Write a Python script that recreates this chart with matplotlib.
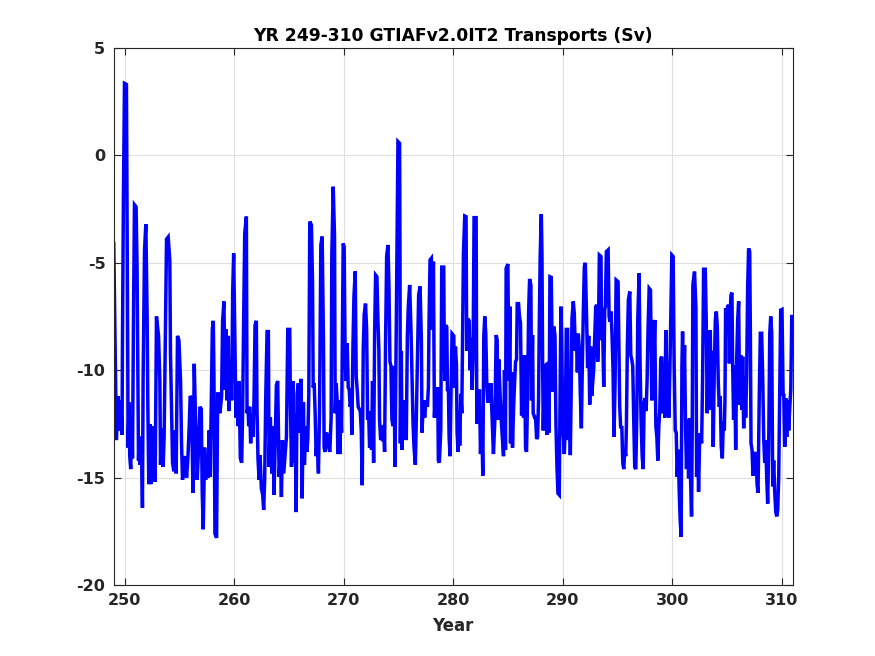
import matplotlib

matplotlib.use("Agg")
import matplotlib.pyplot as plt

# Transport turning points (year, Sv)
years = [
    249.00, 249.09, 249.24, 249.40, 249.55, 249.64, 249.76, 249.79, 249.88, 249.98,
    250.16, 250.22, 250.28, 250.31, 250.40, 250.46, 250.55, 250.65, 250.71, 250.80,
    250.89, 251.04, 251.13, 251.20, 251.26, 251.32, 251.41, 251.53, 251.62, 251.68,
    251.81, 251.93, 252.05, 252.11, 252.20, 252.29, 252.39, 252.51, 252.60, 252.69,
    252.78, 252.90, 253.09, 253.21, 253.27, 253.39, 253.51, 253.60, 253.70, 253.82,
    253.97, 254.12, 254.18, 254.28, 254.37, 254.49, 254.61, 254.70, 254.82, 254.95,
    255.10, 255.19, 255.28, 255.40, 255.53, 255.65, 255.77, 255.89, 255.98, 256.10,
    256.23, 256.35, 256.47, 256.62, 256.75, 256.87, 256.99, 257.08, 257.17, 257.30,
    257.39, 257.51, 257.63, 257.72, 257.81, 257.94, 258.00, 258.09, 258.15, 258.24,
    258.39, 258.49, 258.55, 258.70, 258.85, 258.94, 259.06, 259.16, 259.25, 259.34,
    259.46, 259.52, 259.64, 259.77, 259.86, 259.95, 260.07, 260.16, 260.25, 260.35,
    260.44, 260.56, 260.68, 260.77, 260.86, 260.96, 261.11, 261.17, 261.26, 261.32,
    261.41, 261.50, 261.63, 261.72, 261.81, 261.90, 262.02, 262.08, 262.17, 262.27,
    262.36, 262.48, 262.60, 262.69, 262.78, 262.88, 263.00, 263.12, 263.18, 263.30,
    263.43, 263.55, 263.64, 263.73, 263.85, 263.97, 264.10, 264.22, 264.31, 264.40,
    264.52, 264.65, 264.77, 264.89, 265.07, 265.13, 265.23, 265.35, 265.44, 265.56,
    265.65, 265.74, 265.86, 265.96, 266.11, 266.20, 266.32, 266.41, 266.54, 266.63,
    266.72, 266.81, 266.90, 267.05, 267.15, 267.21, 267.30, 267.39, 267.48, 267.57,
    267.69, 267.79, 267.91, 268.03, 268.15, 268.21, 268.30, 268.43, 268.52, 268.64,
    268.73, 268.85, 268.91, 269.04, 269.16, 269.22, 269.31, 269.40, 269.46, 269.55,
    269.65, 269.74, 269.80, 269.86, 269.95, 270.04, 270.13, 270.22, 270.32, 270.41,
    270.50, 270.59, 270.68, 270.74, 270.84, 270.93, 271.05, 271.14, 271.23, 271.32,
    271.41, 271.51, 271.60, 271.69, 271.78, 271.87, 271.99, 272.09, 272.18, 272.27,
    272.36, 272.45, 272.54, 272.63, 272.73, 272.82, 272.91, 273.03, 273.12, 273.21,
    273.27, 273.37, 273.46, 273.55, 273.64, 273.73, 273.82, 273.92, 274.04, 274.13,
    274.22, 274.31, 274.40, 274.50, 274.59, 274.68, 274.77, 274.89, 274.95, 275.10,
    275.14, 275.17, 275.26, 275.32, 275.41, 275.50, 275.59, 275.71, 275.81, 275.90,
    276.02, 276.14, 276.23, 276.33, 276.42, 276.54, 276.63, 276.75, 276.84, 276.97,
    277.09, 277.15, 277.27, 277.39, 277.51, 277.64, 277.73, 277.79, 277.88, 278.00,
    278.09, 278.19, 278.28, 278.40, 278.49, 278.58, 278.64, 278.73, 278.86, 278.95,
    279.13, 279.19, 279.25, 279.31, 279.41, 279.47, 279.56, 279.62, 279.71, 279.80,
    279.89, 280.05, 280.11, 280.20, 280.29, 280.35, 280.44, 280.53, 280.59, 280.69,
    280.78, 280.84, 280.93, 281.05, 281.17, 281.23, 281.33, 281.45, 281.54, 281.63,
    281.72, 281.81, 281.90, 282.09, 282.15, 282.24, 282.33, 282.39, 282.49, 282.58,
    282.70, 282.79, 282.88, 282.97, 283.06, 283.16, 283.25, 283.34, 283.43, 283.55,
    283.67, 283.80, 283.92, 284.01, 284.07, 284.16, 284.28, 284.38, 284.50, 284.59,
    284.68, 284.77, 284.83, 284.99, 285.08, 285.17, 285.23, 285.32, 285.41, 285.50,
    285.60, 285.69, 285.78, 285.84, 285.96, 286.05, 286.14, 286.24, 286.33, 286.42,
    286.51, 286.60, 286.69, 286.79, 286.88, 286.97, 287.09, 287.15, 287.24, 287.30,
    287.43, 287.52, 287.61, 287.70, 287.79, 287.85, 287.94, 288.04, 288.10, 288.16,
    288.22, 288.34, 288.46, 288.55, 288.65, 288.74, 288.83, 288.95, 289.04, 289.10,
    289.19, 289.29, 289.38, 289.47, 289.56, 289.68, 289.74, 289.83, 289.90, 289.99,
    290.08, 290.14, 290.23, 290.32, 290.45, 290.51, 290.60, 290.69, 290.78, 290.84,
    290.96, 291.05, 291.15, 291.24, 291.33, 291.42, 291.51, 291.60, 291.70, 291.79,
    291.88, 291.97, 292.06, 292.18, 292.27, 292.37, 292.46, 292.55, 292.64, 292.73,
    292.82, 292.92, 293.01, 293.10, 293.19, 293.25, 293.34, 293.49, 293.55, 293.65,
    293.74, 293.83, 293.89, 293.98, 294.14, 294.23, 294.32, 294.41, 294.50, 294.59,
    294.68, 294.78, 294.87, 295.05, 295.11, 295.20, 295.29, 295.39, 295.48, 295.57,
    295.66, 295.75, 295.81, 295.90, 295.99, 296.12, 296.21, 296.30, 296.39, 296.48,
    296.57, 296.67, 296.76, 296.85, 296.97, 297.06, 297.15, 297.25, 297.34, 297.43,
    297.52, 297.61, 297.70, 297.79, 297.89, 298.01, 298.13, 298.22, 298.31, 298.40,
    298.50, 298.59, 298.68, 298.77, 298.86, 298.95, 299.04, 299.14, 299.23, 299.32,
    299.41, 299.50, 299.60, 299.69, 299.78, 299.87, 299.96, 300.08, 300.17, 300.27,
    300.36, 300.45, 300.54, 300.63, 300.72, 300.81, 300.88, 300.94, 301.03, 301.12,
    301.21, 301.30, 301.39, 301.49, 301.58, 301.67, 301.76, 301.82, 301.88, 302.03,
    302.16, 302.22, 302.31, 302.40, 302.49, 302.58, 302.68, 302.77, 302.86, 303.01,
    303.10, 303.19, 303.29, 303.38, 303.47, 303.56, 303.65, 303.74, 303.83, 303.93,
    304.02, 304.11, 304.20, 304.29, 304.38, 304.47, 304.57, 304.66, 304.75, 304.81,
    304.87, 304.96, 305.05, 305.14, 305.21, 305.30, 305.36, 305.45, 305.51, 305.60,
    305.69, 305.79, 305.88, 305.97, 306.06, 306.15, 306.24, 306.34, 306.43, 306.52,
    306.61, 306.70, 306.79, 306.88, 306.97, 307.07, 307.13, 307.19, 307.28, 307.37,
    307.46, 307.55, 307.65, 307.74, 307.83, 307.89, 307.95, 308.04, 308.16, 308.26,
    308.35, 308.44, 308.53, 308.62, 308.71, 308.80, 308.90, 308.99, 309.08, 309.17,
    309.26, 309.35, 309.45, 309.54, 309.63, 309.72, 309.81, 309.90, 310.02, 310.12,
    310.18, 310.27, 310.36, 310.45, 310.54, 310.63, 310.73, 310.82, 310.91, 311.00,
]

transport = [
    -4.1, -7.5, -13.25, -11.2, -12.8, -11.4, -13.0, -9.2, -2.1, 3.35,
    3.3, -3.0, -9.7, -13.6, -11.5, -14.0, -14.6, -12.2, -14.1, -7.7,
    -2.3, -2.4, -5.2, -10.1, -14.2, -13.1, -14.4, -13.1, -16.4, -10.5,
    -4.4, -3.2, -7.5, -11.5, -15.3, -12.5, -15.3, -12.6, -14.2, -12.6,
    -15.2, -7.5, -8.4, -10.5, -14.4, -12.7, -14.5, -13.1, -9.1, -3.9,
    -3.8, -4.9, -9.2, -11.9, -14.3, -14.7, -12.8, -14.8, -8.4, -8.6,
    -10.5, -13.4, -15.1, -14.2, -14.0, -15.0, -14.1, -12.6, -11.2, -11.3,
    -15.7, -9.7, -12.3, -15.1, -13.6, -11.7, -11.8, -15.7, -17.4, -13.6,
    -15.1, -13.9, -15.0, -12.8, -14.96, -10.3, -8.1, -7.7, -10.3, -17.6,
    -17.8, -11.1, -11.1, -12.0, -11.2, -7.7, -6.8, -10.9, -8.1, -11.4,
    -8.4, -11.9, -9.5, -11.4, -6.3, -4.56, -9.06, -12.2, -10.5, -12.6,
    -10.5, -14.1, -14.3, -11.9, -7.7, -3.63, -2.85, -12.0, -11.7, -12.6,
    -11.7, -13.4, -12.0, -13.1, -11.3, -7.9, -7.7, -11.8, -14.1, -15.1,
    -13.95, -15.5, -15.8, -16.5, -15.1, -11.2, -8.2, -8.2, -14.5, -12.2,
    -14.8, -12.6, -15.8, -13.6, -10.7, -10.5, -14.96, -13.9, -15.9, -13.25,
    -14.8, -13.9, -13.1, -8.1, -8.1, -11.5, -14.5, -10.5, -14.3, -12.0,
    -16.6, -11.1, -10.6, -12.9, -10.4, -15.96, -11.5, -14.4, -12.6, -13.8,
    -13.2, -11.1, -3.08, -3.24, -5.9, -10.8, -10.6, -12.0, -14.0, -13.25,
    -14.8, -11.9, -4.17, -3.78, -8.67, -13.6, -13.8, -12.9, -13.25, -13.6,
    -13.8, -12.2, -4.7, -1.46, -3.78, -12.0, -10.6, -11.4, -13.9, -11.4,
    -13.9, -11.9, -12.9, -9.4, -4.1, -4.25, -9.5, -10.5, -8.75, -10.8,
    -10.9, -11.7, -11.4, -13.0, -8.9, -6.6, -5.4, -10.3, -10.9, -11.7,
    -11.8, -11.9, -12.8, -15.35, -9.06, -7.4, -6.9, -8.1, -12.3, -11.9,
    -13.6, -12.7, -13.7, -10.5, -14.3, -8.3, -5.57, -5.65, -7.6, -9.1,
    -12.3, -13.25, -12.55, -13.3, -12.55, -13.8, -8.67, -4.7, -4.17, -6.1,
    -9.6, -9.8, -12.3, -12.6, -9.8, -14.5, -9.45, -2.7, 0.64, 0.56,
    -5.0, -13.4, -9.1, -13.7, -12.0, -12.9, -11.4, -13.25, -8.4, -7.0,
    -6.03, -8.1, -10.3, -12.5, -13.6, -14.4, -12.2, -9.0, -6.5, -6.1,
    -8.6, -12.9, -11.4, -12.2, -11.4, -11.7, -10.8, -7.7, -4.87, -4.79,
    -8.1, -4.95, -12.2, -10.8, -12.2, -10.8, -14.2, -14.3, -12.8, -5.2,
    -5.2, -9.7, -10.5, -7.9, -8.0, -10.9, -10.9, -13.1, -14.0, -10.9,
    -8.3, -8.4, -10.8, -8.9, -9.7, -12.9, -13.8, -11.9, -13.5, -11.1,
    -12.0, -9.1, -4.56, -2.82, -2.85, -9.1, -7.6, -7.7, -10.0, -8.5,
    -10.9, -9.45, -2.9, -2.9, -12.5, -11.5, -12.5, -10.9, -13.9, -12.0,
    -14.9, -8.4, -7.5, -8.3, -10.6, -11.5, -10.6, -11.5, -10.6, -12.2,
    -13.9, -12.3, -8.36, -8.6, -12.3, -9.5, -11.2, -12.3, -13.25, -14.0,
    -10.0, -13.7, -5.26, -5.06, -10.5, -7.04, -13.4, -10.1, -13.6, -11.9,
    -10.6, -9.6, -9.5, -6.9, -6.9, -7.5, -7.8, -12.1, -9.7, -12.2,
    -9.3, -13.6, -13.8, -11.2, -7.35, -5.75, -6.03, -11.4, -8.36, -12.0,
    -12.2, -12.2, -13.2, -13.1, -11.4, -8.1, -4.64, -2.73, -4.56, -9.68,
    -12.8, -9.8, -9.75, -13.0, -10.3, -12.9, -5.65, -5.68, -9.37, -11.0,
    -7.97, -8.4, -12.6, -14.5, -15.73, -15.8, -12.0, -7.04, -8.4, -12.6,
    -13.25, -13.9, -12.6, -8.1, -8.1, -13.25, -10.9, -13.95, -10.6, -7.6,
    -6.8, -7.35, -9.1, -8.3, -10.1, -8.3, -9.0, -11.1, -12.7, -9.7,
    -7.2, -5.18, -5.0, -7.66, -9.9, -8.4, -11.6, -8.9, -11.2, -10.6,
    -10.0, -8.36, -7.04, -6.96, -9.6, -8.6, -4.64, -4.71, -8.6, -8.3,
    -10.77, -7.2, -7.04, -4.48, -4.4, -7.5, -7.74, -7.27, -8.4, -10.0,
    -13.1, -10.5, -5.8, -5.88, -8.3, -11.7, -12.7, -12.6, -14.3, -14.6,
    -13.7, -14.0, -12.6, -8.83, -6.73, -6.34, -9.29, -9.5, -9.8, -12.3,
    -14.5, -14.6, -12.2, -7.6, -5.49, -9.68, -12.3, -14.0, -14.6, -11.5,
    -11.3, -11.9, -10.5, -8.0, -6.19, -6.27, -11.4, -7.66, -9.7, -7.66,
    -12.6, -13.1, -14.2, -12.6, -11.85, -9.45, -9.37, -12.0, -9.68, -12.2,
    -8.13, -10.5, -9.7, -12.2, -10.0, -7.2, -4.64, -4.71, -9.68, -12.8,
    -12.9, -14.96, -13.7, -15.6, -16.97, -17.75, -9.8, -8.2, -10.9, -8.83,
    -12.63, -14.6, -12.3, -15.03, -12.24, -15.1, -16.8, -12.8, -6.03, -5.41,
    -7.12, -14.96, -12.94, -15.65, -13.4, -12.94, -13.4, -10.3, -5.3, -5.3,
    -7.66, -12.0, -8.75, -11.7, -8.13, -11.85, -9.1, -13.56, -10.15, -7.66,
    -7.27, -7.97, -10.6, -11.7, -11.2, -13.56, -14.1, -12.4, -12.8, -11.4,
    -7.12, -7.82, -7.04, -6.96, -9.68, -7.2, -6.5, -6.39, -9.68, -12.3,
    -9.76, -13.7, -9.52, -7.66, -6.8, -11.6, -9.29, -11.85, -9.37, -12.7,
    -10.3, -12.2, -10.3, -6.19, -4.33, -4.48, -8.28, -13.4, -13.7, -14.9,
    -13.8, -14.9, -13.8, -15.3, -15.7, -13.25, -10.9, -8.28, -8.28, -10.4,
    -13.2, -14.3, -13.25, -14.96, -16.2, -13.7, -8.28, -7.5, -8.28, -15.4,
    -14.2, -15.6, -16.6, -16.8, -16.5, -14.9, -10.9, -7.2, -7.17, -11.2,
    -11.1, -13.56, -11.3, -13.1, -11.4, -12.8, -11.7, -10.9, -7.5, -7.5,
]

xticks = [250, 260, 270, 280, 290, 300, 310]
yticks = [-20, -15, -10, -5, 0, 5]

axis_color = "#262626"

plt.rcParams["font.family"] = "DejaVu Sans"
plt.rcParams["font.weight"] = "bold"
plt.rcParams["axes.unicode_minus"] = False

fig = plt.figure(figsize=(8.75, 6.56), dpi=100)
ax = fig.add_axes([0.13, 0.108, 0.776, 0.819])

ax.plot(years, transport, color="#0000ff", linewidth=2.5, solid_joinstyle="miter")

ax.set_xlim(249, 311)
ax.set_ylim(-20, 5)
ax.set_xticks(xticks)
ax.set_yticks(yticks)
ax.grid(True, color="#dfdfdf", linewidth=0.8)
ax.set_axisbelow(True)

ax.tick_params(
    direction="in", length=5, width=0.8, colors=axis_color,
    top=True, right=True, labelsize=11.5, pad=6,
)
for lab in ax.get_xticklabels() + ax.get_yticklabels():
    lab.set_fontweight("bold")
for sp in ax.spines.values():
    sp.set_color(axis_color)
    sp.set_linewidth(0.8)

ax.set_xlabel("Year", fontsize=12, fontweight="bold", color=axis_color, labelpad=6)
ax.set_title("YR 249-310 GTIAFv2.0IT2 Transports (Sv)",
             fontsize=12.3, fontweight="bold", color="black", pad=5)

fig.savefig("out.png", dpi=100)
